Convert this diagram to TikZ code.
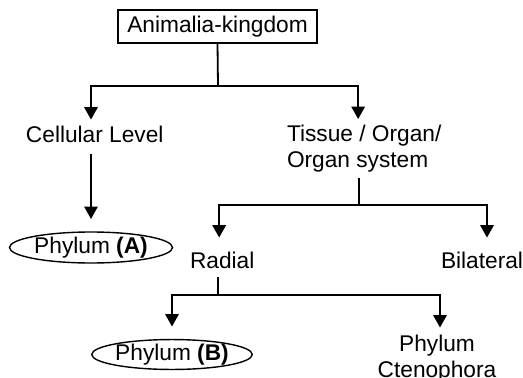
\documentclass[tikz,border=0pt]{standalone}
\usepackage{fontspec}
\setmainfont{Liberation Sans}
\usetikzlibrary{arrows.meta,shapes.geometric}
\begin{document}
\begin{tikzpicture}[x=1pt,y=-1pt,
  every node/.style={font=\fontsize{22.7}{26}\selectfont, inner sep=0pt, outer sep=0pt},
  box/.style={draw, line width=1.8pt, minimum width=199pt, minimum height=33pt},
  oval/.style={draw, ellipse, line width=1.4pt},
  link/.style={line width=1.8pt},
  arr/.style={link, -{Triangle[length=12.5pt,width=13.5pt]}}]
\useasboundingbox (0,0) rectangle (523,378);
\node[box] (root) at (217.5,26.5) {Animalia-kingdom};
\node[anchor=base west] (cell) at (26,142.5) {Cellular Level};
\node[anchor=base west, align=left] (tissue) at (287,167) {Tissue / Organ/\\Organ system};
\node[oval, minimum width=163pt, minimum height=31pt] (pa) at (91,247.5) {Phylum \textbf{(A)}};
\node[anchor=base west] (radial) at (190,268) {Radial};
\node[anchor=base west] (bilat) at (441,268) {Bilateral};
\node[oval, minimum width=160pt, minimum height=29pt] (pb) at (172,354.5) {Phylum \textbf{(B)}};
\node[anchor=base, align=center] (cteno) at (437,377) {Phylum\\Ctenophora};
\coordinate (j1) at (218,86);
\coordinate (j2) at (359,205);
\coordinate (j3) at (218,295);
\draw[link] (root.south) -- (j1);
\draw[arr, shorten >=6.5pt] (j1) -| (cell.north -| pa.north);
\draw[arr, shorten >=5.5pt] (j1) -| ([xshift=-6pt]tissue.north);
\draw[arr, shorten <=11.5pt, shorten >=13pt] (cell.south -| pa.north) -- (pa.north);
\draw[link, shorten <=6pt] (tissue.south -| j2) -- (j2);
\draw[arr, shorten >=14pt] (j2) -| ([xshift=-3pt]radial.north);
\draw[arr, shorten >=14pt] (j2) -| ([xshift=5pt]bilat.north);
\draw[link, shorten <=9pt] (radial.south -| j3) -- (j3);
\draw[arr, shorten >=13pt] (j3) -| (pb.north);
\draw[arr, shorten >=7pt] (j3) -| ([xshift=3pt]cteno.north);
\end{tikzpicture}
\end{document}
